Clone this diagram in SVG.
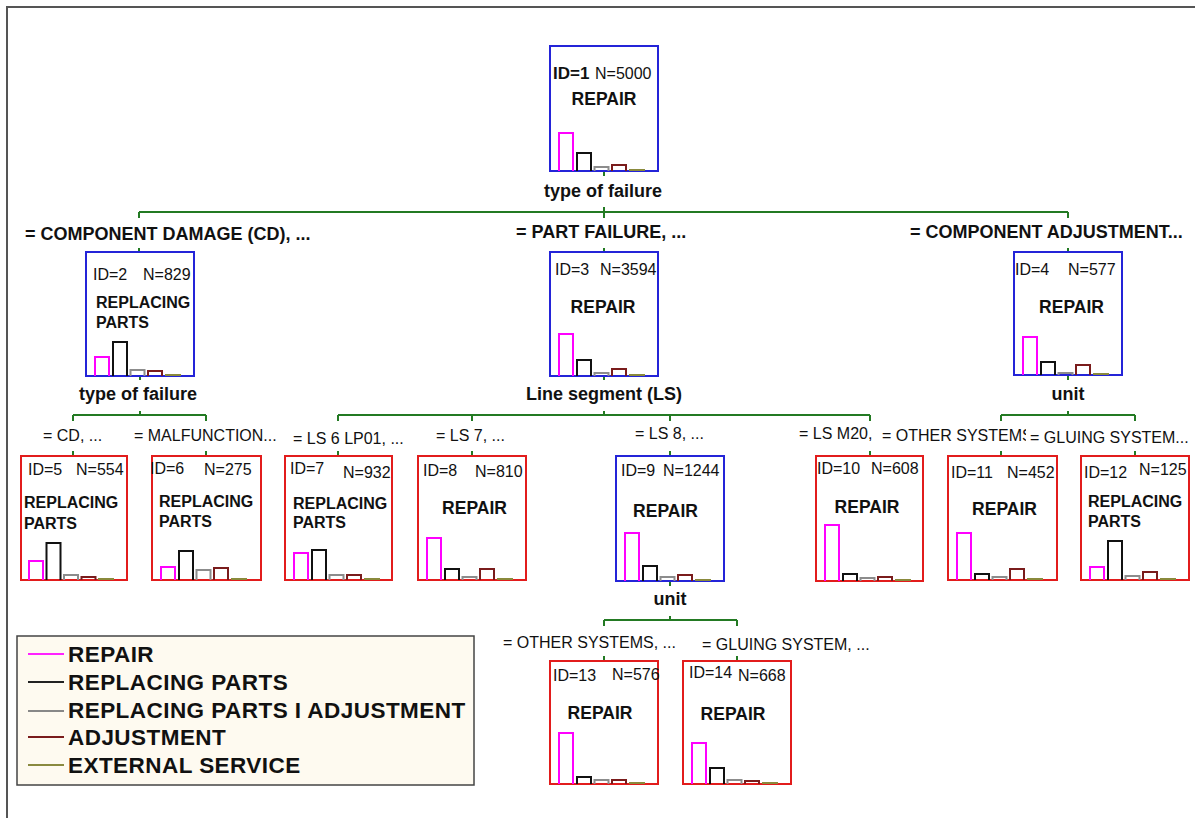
<svg xmlns="http://www.w3.org/2000/svg" width="1195" height="818" viewBox="0 0 1195 818">
<style>
text{font-family:"Liberation Sans",Arial,sans-serif;fill:#111}
.id{font-size:16px}
.idb{font-size:17px;font-weight:bold}
.lab{font-size:17.5px;font-weight:bold}
.lab2{font-size:16px;font-weight:bold}
.el1{font-size:18px;font-weight:bold}
.el2{font-size:16px}
.sp{font-size:18px;font-weight:bold}
.leg{font-size:22.5px;font-weight:bold;letter-spacing:0.45px}
.box{fill:#fff;stroke-width:2}
.blue{stroke:#2424d8}
.red{stroke:#e21c1c}
.b path{fill:none;stroke-width:2}
.m{stroke:#ff00ff}
.k{stroke:#111}
.g{stroke:#8c8c8c}
.r{stroke:#7a1c1c}
.o{stroke:#8a8a3c}
#connectors path{fill:none;stroke:#237a23;stroke-width:2}
</style>
<defs>
<clipPath id="clipOther"><rect x="870" y="420" width="156" height="30"/></clipPath>
</defs>
<rect x="0" y="0" width="1195" height="818" fill="#fff"/>
<path d="M7 818V7H1195" fill="none" stroke="#555" stroke-width="2"/>

<g id="connectors">
<path d="M604 171V176M604 207V212M139 212H1068M139 212V218M604 212V218M1068 212V218M139 248V252M604 248V252M1068 248V252"/>
<path d="M140 376V380M140 411V415M73 415H206M73 415V421M206 415V421M73 451V456M206 451V456"/>
<path d="M604 376V380M604 411V415M338 415H870M338 415V421M472 415V421M670 415V421M870 415V421M338 451V456M472 451V456M670 451V456M870 451V456"/>
<path d="M1068 375V380M1068 411V415M1001 415H1135M1001 415V421M1135 415V421M1001 451V456M1135 451V456"/>
<path d="M670 581V586M670 616V620M604 620H737M604 620V626M737 620V626M604 656V661M737 656V661"/>
</g>

<g id="split-labels">
<text class="sp" x="544" y="197">type of failure</text>
<text class="sp" x="79" y="400">type of failure</text>
<text class="sp" x="604" y="400" text-anchor="middle">Line segment (LS)</text>
<text class="sp" x="1068" y="400" text-anchor="middle">unit</text>
<text class="sp" x="670" y="605" text-anchor="middle">unit</text>
</g>

<g id="edge-labels">
<text class="el1" x="25" y="240">= COMPONENT DAMAGE (CD), ...</text>
<text class="el1" x="516" y="238">= PART FAILURE, ...</text>
<text class="el1" x="910" y="238">= COMPONENT ADJUSTMENT...</text>
<text class="el2" x="43" y="441">= CD, ...</text>
<text class="el2" x="134" y="441">= MALFUNCTION...</text>
<text class="el2" x="293" y="444">= LS 6 LP01, ...</text>
<text class="el2" x="436" y="441">= LS 7, ...</text>
<text class="el2" x="635" y="439">= LS 8, ...</text>
<text class="el2" x="799" y="439">= LS M20,</text>
<text class="el2" x="882" y="441" clip-path="url(#clipOther)">= OTHER SYSTEMS</text>
<text class="el2" x="1030" y="443">= GLUING SYSTEM...</text>
<text class="el2" x="503" y="648">= OTHER SYSTEMS, ...</text>
<text class="el2" x="702" y="650">= GLUING SYSTEM, ...</text>
</g>

<g id="node1">
<rect class="box blue" x="550" y="46" width="108" height="125"/>
<text class="idb" x="553" y="79">ID=1</text>
<text class="id" x="595" y="79">N=5000</text>
<text class="lab" x="604" y="105" text-anchor="middle">REPAIR</text>
<g class="b"><path class="m" d="M559 171V133H573V171"/><path class="k" d="M577 171V153H591V171"/><path class="g" d="M594.5 171V167H608.5V171"/><path class="r" d="M612 171V165H626V171"/><path class="o" d="M630 171V170H644V171"/></g>
</g>

<g id="node2">
<rect class="box blue" x="86" y="252" width="108" height="124"/>
<text class="id" x="93" y="280">ID=2</text>
<text class="id" x="143" y="280">N=829</text>
<text class="lab2" x="96" y="308">REPLACING</text>
<text class="lab2" x="96" y="328">PARTS</text>
<g class="b"><path class="m" d="M95 376V357H109V376"/><path class="k" d="M113 376V342H127V376"/><path class="g" d="M130.5 376V370H144.5V376"/><path class="r" d="M148 376V371H162V376"/><path class="o" d="M166 376V375H180V376"/></g>
</g>

<g id="node3">
<rect class="box blue" x="550" y="252" width="108" height="124"/>
<text class="id" x="555" y="275">ID=3</text>
<text class="id" x="600" y="275">N=3594</text>
<text class="lab" x="603" y="313" text-anchor="middle">REPAIR</text>
<g class="b"><path class="m" d="M559 376V334H573V376"/><path class="k" d="M577 376V360H591V376"/><path class="g" d="M594.5 376V373H608.5V376"/><path class="r" d="M612 376V369H626V376"/><path class="o" d="M630 376V375H644V376"/></g>
</g>

<g id="node4">
<rect class="box blue" x="1014" y="252" width="108" height="123"/>
<text class="id" x="1015" y="275">ID=4</text>
<text class="id" x="1068" y="275">N=577</text>
<text class="lab" x="1071.5" y="313" text-anchor="middle">REPAIR</text>
<g class="b"><path class="m" d="M1023 375V337H1037V375"/><path class="k" d="M1041 375V362H1055V375"/><path class="g" d="M1058.5 375V373H1072.5V375"/><path class="r" d="M1076 375V365H1090V375"/><path class="o" d="M1094 375V374H1108V375"/></g>
</g>

<g id="node5">
<rect class="box red" x="21" y="456" width="106" height="124"/>
<text class="id" x="28" y="475">ID=5</text>
<text class="id" x="76" y="475">N=554</text>
<text class="lab2" x="24" y="508">REPLACING</text>
<text class="lab2" x="24" y="529">PARTS</text>
<g class="b"><path class="m" d="M29 580V561H43V580"/><path class="k" d="M46.5 580V543H60.5V580"/><path class="g" d="M64 580V575H78V580"/><path class="r" d="M81.5 580V577H95.5V580"/><path class="o" d="M99 580V579H113V580"/></g>
</g>

<g id="node6">
<rect class="box red" x="152" y="456" width="109" height="124"/>
<text class="id" x="150" y="474">ID=6</text>
<text class="id" x="204" y="475">N=275</text>
<text class="lab2" x="159" y="507">REPLACING</text>
<text class="lab2" x="159" y="527">PARTS</text>
<g class="b"><path class="m" d="M161 580V567H175V580"/><path class="k" d="M179 580V551H193V580"/><path class="g" d="M196.5 580V570H210.5V580"/><path class="r" d="M214 580V568H228V580"/><path class="o" d="M232 580V579H246V580"/></g>
</g>

<g id="node7">
<rect class="box red" x="285" y="456" width="107" height="124"/>
<text class="id" x="290" y="474">ID=7</text>
<text class="id" x="343" y="478">N=932</text>
<text class="lab2" x="293" y="509">REPLACING</text>
<text class="lab2" x="293" y="528">PARTS</text>
<g class="b"><path class="m" d="M294 580V553H308V580"/><path class="k" d="M312 580V550H326V580"/><path class="g" d="M329.5 580V575H343.5V580"/><path class="r" d="M347 580V575H361V580"/><path class="o" d="M365 580V579H379V580"/></g>
</g>

<g id="node8">
<rect class="box red" x="418" y="456" width="108" height="124"/>
<text class="id" x="423" y="476">ID=8</text>
<text class="id" x="475" y="477">N=810</text>
<text class="lab" x="474.5" y="514" text-anchor="middle">REPAIR</text>
<g class="b"><path class="m" d="M427 580V538H441V580"/><path class="k" d="M445 580V569H459V580"/><path class="g" d="M462.5 580V577H476.5V580"/><path class="r" d="M480 580V569H494V580"/><path class="o" d="M498 580V579H512V580"/></g>
</g>

<g id="node9">
<rect class="box blue" x="616" y="456" width="108" height="125"/>
<text class="id" x="621" y="476">ID=9</text>
<text class="id" x="663" y="476">N=1244</text>
<text class="lab" x="665.5" y="517" text-anchor="middle">REPAIR</text>
<g class="b"><path class="m" d="M625 581V533H639V581"/><path class="k" d="M643 581V566H657V581"/><path class="g" d="M660.5 581V577H674.5V581"/><path class="r" d="M678 581V575H692V581"/><path class="o" d="M696 581V580H710V581"/></g>
</g>

<g id="node10">
<rect class="box red" x="816" y="456" width="107" height="125"/>
<text class="id" x="817" y="474">ID=10</text>
<text class="id" x="871" y="474">N=608</text>
<text class="lab" x="867" y="513" text-anchor="middle">REPAIR</text>
<g class="b"><path class="m" d="M825 581V525H839V581"/><path class="k" d="M843 581V574H857V581"/><path class="g" d="M860.5 581V578H874.5V581"/><path class="r" d="M878 581V577H892V581"/><path class="o" d="M896 581V580H910V581"/></g>
</g>

<g id="node11">
<rect class="box red" x="948" y="456" width="109" height="124"/>
<text class="id" x="951" y="478">ID=11</text>
<text class="id" x="1007" y="478">N=452</text>
<text class="lab" x="1004.5" y="515" text-anchor="middle">REPAIR</text>
<g class="b"><path class="m" d="M957 580V533H971V580"/><path class="k" d="M975 580V574H989V580"/><path class="g" d="M992.5 580V577H1006.5V580"/><path class="r" d="M1010 580V569H1024V580"/><path class="o" d="M1028 580V579H1042V580"/></g>
</g>

<g id="node12">
<rect class="box red" x="1081" y="456" width="108" height="124"/>
<text class="id" x="1084" y="478">ID=12</text>
<text class="id" x="1139" y="475">N=125</text>
<text class="lab2" x="1088" y="507">REPLACING</text>
<text class="lab2" x="1088" y="527">PARTS</text>
<g class="b"><path class="m" d="M1090 580V567H1104V580"/><path class="k" d="M1108 580V541H1122V580"/><path class="g" d="M1125.5 580V576H1139.5V580"/><path class="r" d="M1143 580V572H1157V580"/><path class="o" d="M1161 580V579H1175V580"/></g>
</g>

<g id="node13">
<rect class="box red" x="550" y="661" width="108" height="123"/>
<text class="id" x="553" y="681">ID=13</text>
<text class="id" x="612" y="680">N=576</text>
<text class="lab" x="600" y="719" text-anchor="middle">REPAIR</text>
<g class="b"><path class="m" d="M559 784V733H573V784"/><path class="k" d="M577 784V777H591V784"/><path class="g" d="M594.5 784V780H608.5V784"/><path class="r" d="M612 784V780H626V784"/><path class="o" d="M630 784V783H644V784"/></g>
</g>

<g id="node14">
<rect class="box red" x="683" y="661" width="108" height="123"/>
<text class="id" x="689" y="678">ID=14</text>
<text class="id" x="738" y="681">N=668</text>
<text class="lab" x="733" y="720" text-anchor="middle">REPAIR</text>
<g class="b"><path class="m" d="M692 784V743H706V784"/><path class="k" d="M710 784V768H724V784"/><path class="g" d="M727.5 784V780H741.5V784"/><path class="r" d="M745 784V781H759V784"/><path class="o" d="M763 784V783H777V784"/></g>
</g>

<g id="legend">
<rect x="17" y="636" width="457" height="149" fill="#fefaf0" stroke="#444" stroke-width="1.5"/>
<path d="M28 654H64" stroke="#ff22ff" stroke-width="2"/>
<path d="M28 682H64" stroke="#222" stroke-width="2"/>
<path d="M28 711H64" stroke="#888" stroke-width="2"/>
<path d="M28 737H64" stroke="#7a1c1c" stroke-width="2"/>
<path d="M28 765H64" stroke="#8a8a40" stroke-width="2"/>
<text class="leg" x="68" y="662">REPAIR</text>
<text class="leg" x="68" y="690">REPLACING PARTS</text>
<text class="leg" x="68" y="718">REPLACING PARTS I ADJUSTMENT</text>
<text class="leg" x="68" y="745">ADJUSTMENT</text>
<text class="leg" x="68" y="773">EXTERNAL SERVICE</text>
</g>
</svg>
